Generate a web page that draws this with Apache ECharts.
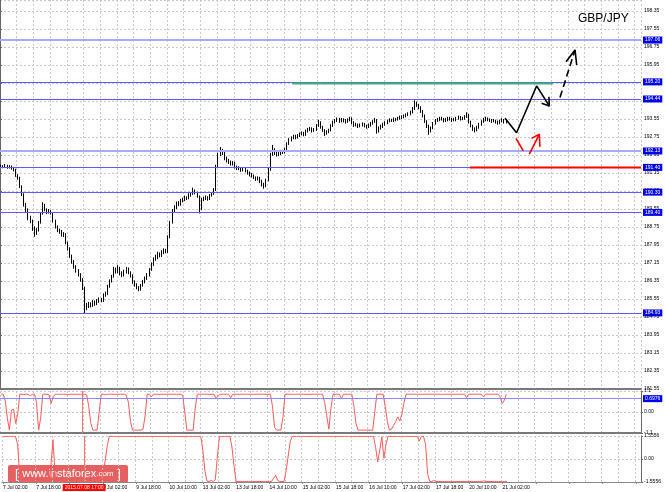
<!DOCTYPE html>
<html><head><meta charset="utf-8">
<script src="https://cdn.jsdelivr.net/npm/echarts@6/dist/echarts.min.js"></script>
<style>html,body{margin:0;padding:0;background:#fff}#c{width:665px;height:492px}</style>
</head><body><div id="c"></div><script>
// ---------------- data ----------------
const tickLabels = ['7 Jul 02:00','7 Jul 18:00','8 Jul 10:00','9 Jul 02:00','9 Jul 18:00','10 Jul 10:00','13 Jul 02:00','13 Jul 18:00','14 Jul 10:00','15 Jul 02:00','15 Jul 18:00','16 Jul 10:00','17 Jul 02:00','17 Jul 18:00','20 Jul 10:00','21 Jul 02:00'];
const barSlots = 307;          // hourly slots visible on the time axis
const barsPerLabel = 16;
const cursorIndex = 39;
const cursorLabel = '2015.07.08 17:00';
const firstOpen = 191.42;
const closes = [
191.46,191.42,191.48,191.40,191.44,191.36,191.30,191.05,190.92,190.55,
190.20,189.75,189.50,189.12,189.02,188.70,188.48,188.62,188.95,189.35,
189.70,189.52,189.40,189.45,189.38,189.02,188.75,188.60,188.55,188.40,
188.42,188.05,187.78,187.45,187.20,186.98,186.80,186.62,186.40,186.05,
185.20,185.25,185.32,185.28,185.40,185.35,185.45,185.52,185.48,185.72,
185.78,186.10,186.35,186.55,186.85,186.78,186.92,186.70,186.62,186.75,
186.88,186.72,186.60,186.30,186.18,186.05,185.98,186.15,186.32,186.45,
186.62,186.85,187.10,187.32,187.40,187.55,187.48,187.62,187.70,187.65,
188.30,188.95,189.48,189.62,189.80,189.75,189.90,189.95,190.08,190.02,
190.18,190.22,190.35,190.28,190.12,189.55,189.98,190.02,190.08,190.00,
190.15,190.22,190.40,191.45,191.95,192.15,192.05,191.80,191.70,191.62,
191.55,191.60,191.42,191.35,191.38,191.28,191.32,191.25,191.15,191.08,
191.02,190.95,190.88,190.92,190.78,190.65,190.58,190.82,191.30,191.98,
192.18,192.05,191.98,192.02,192.10,192.08,192.20,192.45,192.62,192.70,
192.78,192.72,192.80,192.88,192.92,192.85,193.00,193.08,193.12,193.02,
193.08,193.25,193.42,193.20,193.05,192.90,192.98,193.05,193.25,193.40,
193.48,193.55,193.45,193.52,193.48,193.42,193.50,193.58,193.40,193.28,
193.30,193.22,193.28,193.32,193.25,193.20,193.28,193.35,193.42,193.50,
193.02,193.15,193.22,193.30,193.38,193.45,193.50,193.48,193.55,193.52,
193.58,193.62,193.65,193.68,193.72,193.78,193.85,194.00,194.25,194.15,
194.08,193.90,193.70,193.45,193.25,193.02,193.15,193.35,193.48,193.52,
193.58,193.55,193.48,193.52,193.58,193.55,193.50,193.52,193.58,193.62,
193.55,193.58,193.65,193.72,193.42,193.25,193.12,193.05,193.18,193.30,
193.42,193.52,193.58,193.52,193.50,193.45,193.48,193.42,193.38,193.45,
193.50,193.40,193.49];
const highs = [
191.52,191.50,191.55,191.52,191.50,191.48,191.42,191.34,191.10,190.98,
190.60,190.25,189.82,189.58,189.25,189.08,188.78,188.70,189.02,189.42,
189.85,189.78,189.58,189.55,189.50,189.42,189.08,188.82,188.68,188.62,
188.52,188.48,188.10,187.85,187.52,187.28,187.05,186.88,186.70,186.48,
186.10,185.38,185.42,185.40,185.50,185.48,185.55,185.62,185.60,185.80,
185.88,186.18,186.42,186.62,186.98,186.95,187.05,186.98,186.78,186.85,
186.98,186.95,186.78,186.65,186.38,186.25,186.12,186.22,186.40,186.55,
186.70,186.92,187.18,187.40,187.52,187.65,187.62,187.72,187.80,187.78,
188.38,189.02,189.55,189.72,189.88,189.90,190.00,190.05,190.15,190.12,
190.25,190.30,190.50,190.42,190.32,190.15,190.05,190.10,190.15,190.12,
190.22,190.30,190.48,191.52,192.05,192.30,192.22,192.10,191.88,191.78,
191.70,191.68,191.65,191.48,191.45,191.42,191.40,191.38,191.30,191.22,
191.15,191.08,191.00,191.00,190.98,190.85,190.72,190.90,191.38,192.05,
192.40,192.25,192.12,192.10,192.18,192.18,192.28,192.52,192.70,192.78,
192.85,192.85,192.88,192.95,193.00,192.98,193.08,193.15,193.20,193.18,
193.15,193.32,193.52,193.45,193.25,193.10,193.05,193.12,193.32,193.48,
193.55,193.62,193.60,193.60,193.58,193.55,193.58,193.65,193.62,193.45,
193.38,193.35,193.35,193.40,193.38,193.30,193.35,193.42,193.50,193.60,
193.55,193.22,193.30,193.38,193.45,193.52,193.58,193.56,193.62,193.60,
193.65,193.70,193.72,193.75,193.80,193.85,193.92,194.08,194.38,194.32,
194.22,194.12,193.95,193.75,193.50,193.30,193.22,193.42,193.55,193.60,
193.65,193.65,193.60,193.60,193.65,193.65,193.60,193.60,193.65,193.70,
193.68,193.65,193.72,193.85,193.78,193.48,193.30,193.18,193.25,193.38,
193.50,193.60,193.65,193.62,193.58,193.55,193.55,193.52,193.48,193.52,
193.58,193.55,193.55];
const lows = [
191.38,191.36,191.38,191.34,191.35,191.30,191.22,190.98,190.85,190.48,
190.12,189.66,189.42,189.05,188.92,188.58,188.32,188.40,188.55,188.90,
189.30,189.45,189.32,189.35,189.30,188.95,188.68,188.52,188.45,188.32,
188.30,187.98,187.70,187.38,187.12,186.90,186.72,186.55,186.32,185.95,
184.93,185.05,185.15,185.18,185.20,185.25,185.28,185.38,185.40,185.42,
185.65,185.72,186.05,186.28,186.50,186.68,186.70,186.60,186.52,186.55,
186.68,186.65,186.50,186.22,186.10,185.98,185.90,185.92,186.10,186.25,
186.40,186.55,186.80,187.02,187.25,187.32,187.40,187.42,187.55,187.58,
187.60,188.25,188.90,189.40,189.55,189.68,189.70,189.85,189.90,189.95,
189.98,190.10,190.18,190.20,190.05,189.35,189.50,189.90,189.95,189.92,
189.95,190.10,190.18,190.35,191.40,191.90,191.95,191.72,191.62,191.55,
191.48,191.48,191.35,191.28,191.28,191.20,191.22,191.18,191.08,191.00,
190.95,190.88,190.80,190.82,190.70,190.55,190.45,190.52,190.78,191.25,
191.92,191.95,191.88,191.90,191.95,192.00,192.02,192.15,192.40,192.55,
192.65,192.65,192.68,192.75,192.82,192.78,192.80,192.95,193.02,192.95,
192.98,193.02,193.20,193.12,192.98,192.80,192.85,192.92,193.00,193.20,
193.35,193.42,193.38,193.40,193.40,193.35,193.38,193.45,193.32,193.20,
193.22,193.15,193.18,193.22,193.18,193.12,193.15,193.22,193.30,193.38,
192.90,192.95,193.08,193.15,193.25,193.32,193.40,193.42,193.42,193.45,
193.48,193.52,193.55,193.58,193.62,193.68,193.72,193.80,193.95,194.08,
193.98,193.82,193.62,193.38,193.15,192.85,192.95,193.10,193.30,193.42,
193.45,193.48,193.40,193.42,193.45,193.48,193.42,193.45,193.45,193.52,
193.48,193.50,193.52,193.60,193.35,193.18,193.02,192.95,193.00,193.12,
193.25,193.38,193.45,193.45,193.42,193.38,193.40,193.35,193.30,193.32,
193.40,193.35,193.35];
const osc1 = [
0.93,0.93,0.6,-0.3,-0.95,0.1,0.15,-0.6,-0.1,0.93,
0.93,0.92,0.93,0.93,0.85,0.93,0.93,0.5,-0.95,-0.3,
0.93,0.93,0.93,0.9,0.45,0.8,0.93,0.93,0.92,0.93,
0.93,0.93,0.91,0.93,0.93,0.93,0.92,0.93,0.93,0.93,
0.93,0.9,0.3,-0.6,-0.95,-0.95,-0.95,0.0,0.93,0.93,
0.9,0.93,0.93,0.93,0.93,0.92,0.93,0.93,0.93,0.93,
0.88,0.5,-0.5,-0.95,-0.95,-0.95,-0.95,-0.95,-0.9,-0.2,
0.93,0.93,0.8,0.93,0.93,0.93,0.92,0.93,0.93,0.93,
0.93,0.93,0.93,0.93,0.92,0.93,0.93,0.88,0.0,-0.95,
-0.95,-0.95,-0.95,0.2,0.93,0.93,0.93,0.93,0.93,0.93,
0.92,0.93,0.93,0.7,0.85,0.93,0.93,0.93,0.93,0.93,
0.75,0.93,0.93,0.93,0.92,0.93,0.93,0.93,0.93,0.93,
0.93,0.92,0.93,0.93,0.93,0.93,0.93,0.92,0.93,0.93,
0.3,-0.8,-0.95,-0.95,-0.95,-0.3,0.93,0.93,0.93,0.93,
0.93,0.92,0.93,0.93,0.93,0.93,0.93,0.92,0.93,0.93,
0.93,0.93,0.93,0.93,0.93,0.5,-0.2,-0.9,0.2,0.93,
0.93,0.93,0.93,0.7,0.93,0.93,0.93,0.93,0.93,0.3,
-0.6,-0.95,-0.95,-0.95,-0.95,-0.95,-0.95,-0.95,-0.95,0.0,
0.93,0.93,0.93,0.93,0.3,-0.5,-0.95,-0.9,-0.7,-0.5,
-0.26,-0.47,-0.1,0.5,0.93,0.93,0.93,0.93,0.93,0.93,
0.93,0.92,0.93,0.93,0.93,0.93,0.93,0.93,0.93,0.93,
0.93,0.92,0.93,0.93,0.93,0.93,0.93,0.93,0.92,0.93,
0.93,0.93,0.93,0.75,0.93,0.93,0.93,0.93,0.93,0.93,
0.93,0.8,0.93,0.93,0.93,0.93,0.93,0.93,0.93,0.8,
0.45,0.6,0.93];
const osc2 = [
1.53,1.53,1.53,1.53,1.53,1.53,1.53,1.0,-1.0,-1.5,
-1.52,-1.52,-1.52,-1.52,-1.52,-1.52,-1.52,-1.52,-1.52,-1.52,
-1.52,-1.52,-1.52,-0.5,1.3,-1.0,-1.52,-1.52,-1.52,-1.52,
-1.52,-1.52,-1.52,-1.52,-1.52,-1.52,-1.52,-1.52,-1.52,-1.52,
-1.52,-1.52,-1.52,-1.52,-1.52,-1.52,-1.52,-1.52,-1.0,-0.2,
0.8,1.53,1.53,1.53,1.53,1.53,1.53,1.53,1.53,1.53,
1.53,1.53,1.53,1.53,1.53,1.53,1.53,1.53,1.53,1.53,
1.53,1.53,1.53,1.53,1.53,1.53,1.53,1.53,1.53,1.53,
1.53,1.53,1.53,1.53,1.53,1.53,1.53,1.53,1.53,1.53,
1.53,1.53,1.53,1.53,1.53,1.53,0.6,-0.8,-1.5,-1.52,
-1.45,-1.52,-1.4,0.2,1.53,1.53,1.53,1.53,1.53,1.53,
0.8,-0.5,-1.52,-1.52,-1.52,-1.52,-1.52,-1.52,-1.52,-1.52,
-1.52,-1.52,-1.52,-1.52,-1.52,-1.52,-1.52,-1.52,-1.52,-1.52,
-1.3,-1.1,-1.45,-1.52,-1.52,-1.52,-0.8,0.2,1.2,1.53,
1.53,1.53,1.53,1.53,1.53,1.53,1.53,1.53,1.53,1.53,
1.53,1.53,1.53,1.53,1.53,1.53,1.53,1.53,1.53,1.53,
1.53,1.53,1.53,1.53,1.53,1.53,1.53,1.53,1.53,1.53,
1.53,1.53,1.53,1.53,1.53,1.53,1.53,1.53,1.53,0.8,
-0.2,0.6,1.5,0.05,1.0,1.53,1.53,1.53,1.53,1.53,
1.53,1.53,1.53,1.53,1.53,1.53,1.53,1.53,1.53,1.53,
1.22,1.53,1.53,1.0,-1.0,-1.52,-1.52,-1.45,-1.52,-1.52,
-1.52,-1.52,-1.52,-1.52,-1.52,-1.52,-1.52,-1.52,-1.52,-1.52,
-1.52,-1.52,-1.52,-1.52,-1.52,-1.52,-1.52,-1.52,-1.52,-1.52,
-1.52,-1.47,-1.52,-1.52,-1.52,-1.52,-1.52,-1.52,-1.52,-1.52,
-1.52,-1.52,-1.52];
const darkLevels = [195.20, 194.44, 191.40, 190.30, 189.40, 184.93];
const lightLevels = [197.06, 192.13];
const lastPrice = 193.49;
const osc1Level = 0.6976;
// annotation strokes in (bar slot, price) units
const resistanceSeg = [[139.8, 195.13], [264.8, 195.13]];
const supportSeg = [[225.0, 191.40], [307.0, 191.40]];
const blackPath = [[241.9, 193.58], [247.4, 192.94], [257.0, 195.02], [263.1, 194.13]];
const blackPathHead = [[262.9, 194.54], [263.1, 194.13], [259.4, 194.25]];
const blackDash = [[268.2, 194.51], [275.4, 196.62]];
const blackDashHead = [[271.1, 196.10], [275.4, 196.62], [276.2, 195.95]];
const redStroke1 = [[247.1, 192.69], [250.6, 192.14]];
const redStroke2 = [[253.5, 191.99], [258.3, 192.87]];
const redHead = [[254.6, 192.69], [258.3, 192.87], [258.6, 192.32]];

// ---------------- build ----------------
const categories = [];
for (let i = 0; i < barSlots; i++) {
  const k = i / barsPerLabel;
  categories.push(i % barsPerLabel === 0 && tickLabels[k] ? tickLabels[k] : 'b' + i);
}
const ohlc = closes.map((c, i) => [i === 0 ? firstOpen : closes[i - 1], c, lows[i], highs[i]]);

const FONT = 'Liberation Sans';
const dashGrid = { show: true, lineStyle: { color: '#c9c9c9', type: [2, 2], width: 1 } };
const smallLabel = { fontSize: 5, fontFamily: FONT, color: '#000' };
const lvlLabel = (v, bg) => ({ show: true, position: 'end', distance: 2, formatter: v.toFixed(2), backgroundColor: bg, color: '#fff', fontSize: 5, fontFamily: FONT, padding: [1, 2] });
const cursorItem = (withLabel) => ({ xAxis: categories[cursorIndex],
    lineStyle: { color: '#ff7070', width: 1, type: 'solid', opacity: 1 },
    label: withLabel ? { show: true, position: 'start', distance: 2, formatter: cursorLabel, backgroundColor: '#ff0000', color: '#fff', fontSize: 5, fontFamily: FONT, padding: [1, 2] } : { show: false } });

const catAxis = (gi, extra) => Object.assign({
  type: 'category', gridIndex: gi, data: categories, boundaryGap: true,
  axisLine: { show: true, onZero: false, lineStyle: { color: '#7a7a7a', width: 2 } },
  axisTick: { show: false }, axisLabel: { show: false },
  splitLine: Object.assign({ interval: 7 }, dashGrid)
}, extra || {});

const annot = (data, color, width, type) => ({
  type: 'line', xAxisIndex: 3, yAxisIndex: 0, data: data, showSymbol: false, symbol: 'none', silent: true,
  lineStyle: { color: color, width: width, type: type || 'solid' }, z: 5
});

const option = {
  animation: false,
  backgroundColor: '#fff',
  title: { text: 'GBP/JPY', left: 573, top: 8, textStyle: { fontSize: 12, fontWeight: 'normal', fontFamily: FONT, color: '#000' } },
  grid: [
    { left: 0, right: 24, top: 0, height: 389 },
    { left: 0, right: 24, top: 391, height: 42 },
    { left: 0, right: 24, top: 436, height: 46 }
  ],
  xAxis: [
    catAxis(0),
    catAxis(1),
    catAxis(2, {
      axisLine: { show: true, onZero: false, lineStyle: { color: '#888', width: 1 } },
      axisTick: { show: true, interval: 15, alignWithLabel: true, length: 2, lineStyle: { color: '#888' } },
      axisLabel: Object.assign({ show: true, interval: 15, align: 'left', margin: 3,
        formatter: v => (v.charAt(0) === 'b' ? '' : v) }, smallLabel)
    }),
    { type: 'value', gridIndex: 0, min: 0, max: barSlots, show: false }
  ],
  yAxis: [
    { type: 'value', gridIndex: 0, position: 'right', min: 181.55, max: 198.84, interval: 0.8,
      axisLine: { show: true, lineStyle: { color: '#666' } },
      axisTick: { show: true, length: 2, lineStyle: { color: '#666' } },
      axisLabel: Object.assign({ margin: 3, showMaxLabel: false, formatter: v => v.toFixed(2) }, smallLabel),
      splitLine: dashGrid },
    { type: 'value', gridIndex: 1, position: 'right', min: -1.1, max: 1.1, interval: 1.1,
      axisLine: { show: true, lineStyle: { color: '#666' } },
      axisTick: { show: true, length: 2, lineStyle: { color: '#666' } },
      axisLabel: Object.assign({ margin: 3, formatter: v => (Math.abs(v) < 1e-9 ? '0.00' : String(+v.toFixed(1))) }, smallLabel),
      splitLine: dashGrid },
    { type: 'value', gridIndex: 2, position: 'right', min: -1.5556, max: 1.5556, interval: 1.5556,
      axisLine: { show: true, lineStyle: { color: '#666' } },
      axisTick: { show: true, length: 2, lineStyle: { color: '#666' } },
      axisLabel: Object.assign({ margin: 3, formatter: v => (Math.abs(v) < 1e-9 ? '0.00' : v.toFixed(4)) }, smallLabel),
      splitLine: dashGrid }
  ],
  series: [
    // level lines carried by an empty helper series on the price grid
    { type: 'line', xAxisIndex: 3, yAxisIndex: 0, data: [], silent: true, z: 3,
      lineStyle: { color: '#5a5aff' }, itemStyle: { color: '#5a5aff' },
      markLine: {
        symbol: 'none', silent: true, animation: false,
        data: [
          ...darkLevels.map(v => ({ yAxis: v, lineStyle: { color: '#5a5aff', width: 1, type: 'solid', opacity: 1 }, label: lvlLabel(v, '#0000ee') })),
          ...lightLevels.map(v => ({ yAxis: v, lineStyle: { color: '#a9a9ff', width: 2, type: 'solid', opacity: 1 }, label: lvlLabel(v, '#0000ee') })),
          { yAxis: lastPrice, lineStyle: { color: '#ffffff', width: 0, opacity: 0 }, label: lvlLabel(lastPrice, '#000000') },
          cursorItem(false)
        ]
      }
    },
    { type: 'candlestick', xAxisIndex: 0, yAxisIndex: 0, data: ohlc, barWidth: 1.2, z: 4,
      itemStyle: { color: '#ffffff', color0: '#000000', borderColor: '#000000', borderColor0: '#000000', borderWidth: 1 } },
    annot(resistanceSeg, '#3cb371', 2),
    annot(supportSeg, '#ff0000', 2),
    annot(blackPath, '#000000', 1.6),
    annot(blackPathHead, '#000000', 1.6),
    annot(blackDash, '#000000', 1.6, [7, 4]),
    annot(blackDashHead, '#000000', 1.6),
    annot(redStroke1, '#ff0000', 1.6),
    annot(redStroke2, '#ff0000', 1.6),
    annot(redHead, '#ff0000', 1.6),
    { type: 'line', xAxisIndex: 1, yAxisIndex: 1, data: osc1, showSymbol: false, symbol: 'none', silent: true,
      lineStyle: { color: '#ff5a5a', width: 1 }, itemStyle: { color: '#ff5a5a' },
      markLine: {
        symbol: 'none', silent: true, animation: false,
        data: [
          { yAxis: osc1Level, lineStyle: { color: '#8a8aff', width: 1, type: 'solid', opacity: 1 },
            label: { show: true, position: 'end', distance: 2, formatter: osc1Level.toFixed(4), backgroundColor: '#0000ee', color: '#fff', fontSize: 5, fontFamily: FONT, padding: [1, 2] } },
          cursorItem(false)
        ]
      }
    },
    { type: 'line', xAxisIndex: 2, yAxisIndex: 2, data: osc2, showSymbol: false, symbol: 'none', silent: true,
      lineStyle: { color: '#ff5a5a', width: 1 }, itemStyle: { color: '#ff5a5a' },
      markLine: { symbol: 'none', silent: true, animation: false, data: [cursorItem(true)] }
    }
  ],
  graphic: [{
    type: 'group', left: 8, top: 465, z: 100,
    children: [
      { type: 'rect', shape: { x: 0, y: 0, width: 120, height: 18, r: 2 }, style: { fill: 'rgba(222,58,58,0.8)' } },
      { type: 'text', x: 7, y: 9, style: {
          text: '{b|[ }{w|www.instaforex}{c|.com}{b| ]}', verticalAlign: 'middle', fill: '#fff',
          rich: {
            b: { fontSize: 13, fontFamily: FONT, fill: '#fff', color: '#fff' },
            w: { fontSize: 11, fontFamily: FONT, fill: '#fff', color: '#fff' },
            c: { fontSize: 8, fontFamily: FONT, fill: '#fff', color: '#fff' }
          } } }
    ]
  }]
};
const chart = echarts.init(document.getElementById('c'), null, { renderer: 'canvas' });
chart.setOption(option);
</script></body></html>
